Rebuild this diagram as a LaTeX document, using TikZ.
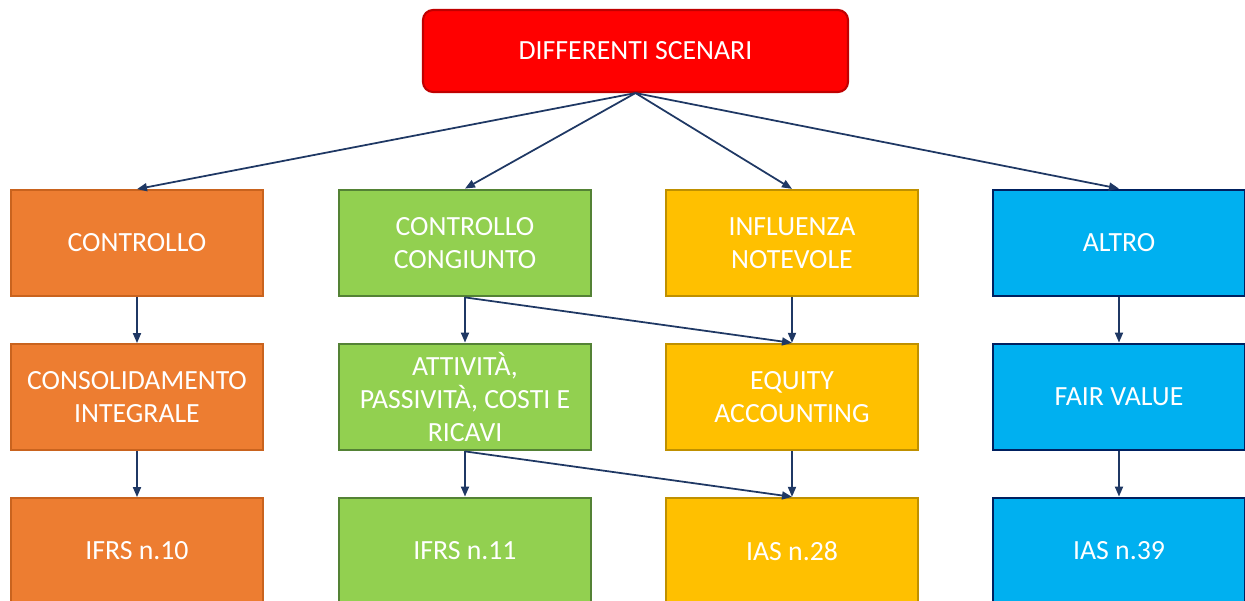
\documentclass[tikz,border=0pt]{standalone}
\usepackage{fontspec}
\setmainfont{Carlito}
\usepackage{xcolor}
\usetikzlibrary{arrows.meta}

\definecolor{scenred}{HTML}{FF0000}
\definecolor{scenredline}{HTML}{C00000}
\definecolor{ctrlorange}{HTML}{ED7D31}
\definecolor{ctrlorangeline}{HTML}{C9631E}
\definecolor{jointgreen}{HTML}{92D050}
\definecolor{jointgreenline}{HTML}{548235}
\definecolor{inflyellow}{HTML}{FFC000}
\definecolor{inflyellowline}{HTML}{BF9000}
\definecolor{otherblue}{HTML}{00B0F0}
\definecolor{otherblueline}{HTML}{002060}
\definecolor{linknavy}{HTML}{1F3864}

\tikzset{
    box/.style={draw, minimum width=5.04cm, minimum height=2.12cm, align=center,
        text=white, font=\fontsize{15.8}{18.8}\selectfont},
    orangebox/.style={box, fill=ctrlorange, draw=ctrlorangeline, line width=1pt},
    greenbox/.style={box, fill=jointgreen, draw=jointgreenline, line width=1.6pt},
    yellowbox/.style={box, fill=inflyellow, draw=inflyellowline, line width=1.3pt},
    bluebox/.style={box, fill=otherblue, draw=otherblueline, line width=1.6pt},
    link/.style={-{Triangle[length=2mm, width=1.6mm]}, line width=1pt, draw=linknavy}
}

\begin{document}
\begin{tikzpicture}
        \clip (0, 0) rectangle (24.9, -12.02);

        \coordinate (Top) at (12.71, -1.02);

        \node[box, fill=scenred, draw=scenredline, line width=1.2pt, rounded corners=0.2cm,
            minimum width=8.5cm, minimum height=1.64cm] (scenari) at (Top) {DIFFERENTI SCENARI};

        % first row
        \node[orangebox] (controllo) at (2.74, -4.86) {CONTROLLO};
        \node[greenbox] (congiunto) at (9.30, -4.86) {CONTROLLO\\CONGIUNTO};
        \node[yellowbox] (influenza) at (15.84, -4.86) {INFLUENZA\\NOTEVOLE};
        \node[bluebox] (altro) at (22.38, -4.86) {ALTRO};

        % second row
        \node[orangebox] (consolidamento) at (2.74, -7.94) {CONSOLIDAMENTO\\INTEGRALE};
        \node[greenbox] (attivita) at (9.30, -7.94) {ATTIVITÀ,\\PASSIVITÀ, COSTI E\\RICAVI};
        \node[yellowbox] (equity) at (15.84, -7.94) {EQUITY\\ACCOUNTING};
        \node[bluebox] (fairvalue) at (22.38, -7.94) {FAIR VALUE};

        % third row
        \node[orangebox] (ifrsten) at (2.74, -11.02) {IFRS n.10};
        \node[greenbox] (ifrseleven) at (9.30, -11.02) {IFRS n.11};
        \node[yellowbox] (iastwentyeight) at (15.84, -11.02) {IAS n.28};
        \node[bluebox] (iasthirtynine) at (22.38, -11.02) {IAS n.39};

        \draw[link] (scenari.south) -- (controllo.north);
        \draw[link] (scenari.south) -- (congiunto.north);
        \draw[link] (scenari.south) -- (influenza.north);
        \draw[link] (scenari.south) -- (altro.north);

        \draw[link] (controllo) -- (consolidamento);
        \draw[link] (congiunto) -- (attivita);
        \draw[link] (congiunto.south) -- (equity.north);
        \draw[link] (influenza) -- (equity);
        \draw[link] (altro) -- (fairvalue);

        \draw[link] (consolidamento) -- (ifrsten);
        \draw[link] (attivita) -- (ifrseleven);
        \draw[link] (attivita.south) -- (iastwentyeight.north);
        \draw[link] (equity) -- (iastwentyeight);
        \draw[link] (fairvalue) -- (iasthirtynine);

    \end{tikzpicture}
\end{document}
